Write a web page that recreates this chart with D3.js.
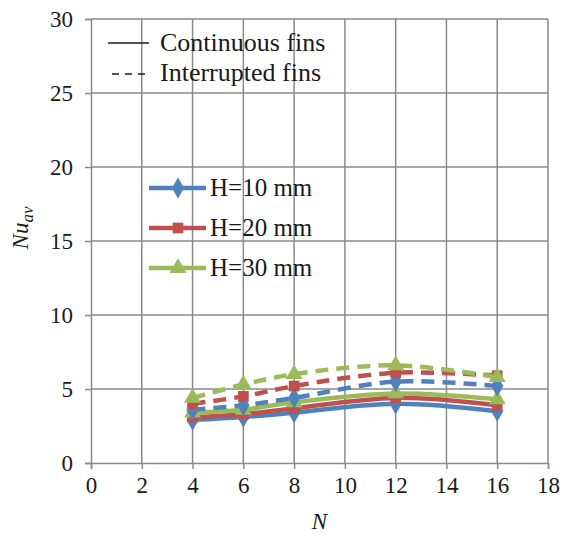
<!DOCTYPE html>
<html>
<head>
<meta charset="utf-8">
<script src="https://cdn.jsdelivr.net/npm/d3@7"></script>
<style>
  html, body { margin: 0; padding: 0; background: #fff; }
  svg { display: block; }
  text { font-family: "Liberation Serif", "Times New Roman", serif; fill: #1a1a1a; }
</style>
</head>
<body>
<svg id="chart" width="569" height="539"></svg>
<script>
// Number of fins on the x axis
const finCounts = [4, 6, 8, 12, 16];

// Average Nusselt number, continuous fins
const contH10 = [2.9, 3.1, 3.4, 4.0, 3.5];
const contH20 = [3.1, 3.3, 3.7, 4.4, 3.9];
const contH30 = [3.4, 3.6, 4.1, 4.7, 4.3];

// Average Nusselt number, interrupted fins
const intH10 = [3.6, 3.9, 4.4, 5.5, 5.2];
const intH20 = [4.0, 4.5, 5.2, 6.1, 5.9];
const intH30 = [4.4, 5.3, 6.0, 6.6, 5.8];

const heightLabels = ["H=10 mm", "H=20 mm", "H=30 mm"];
const seriesColors = ["#4F81BD", "#C0504D", "#9BBB59"];
const markerShapes = [d3.symbolDiamond, d3.symbolSquare, d3.symbolTriangle];

const xTicks = [0, 2, 4, 6, 8, 10, 12, 14, 16, 18];
const yTicks = [0, 5, 10, 15, 20, 25, 30];

const svg = d3.select("#chart");
const plot = { left: 91, right: 548, top: 19, bottom: 463 };

const x = d3.scaleLinear().domain([0, 18]).range([plot.left, plot.right]);
const y = d3.scaleLinear().domain([0, 30]).range([plot.bottom, plot.top]);

const gridColor = "#8a8a8a";
const serif = "'Liberation Serif', 'Times New Roman', serif";

// Grid lines
const grid = svg.append("g");
grid.selectAll("line.v").data(xTicks.slice(1)).join("line")
  .attr("x1", d => x(d)).attr("x2", d => x(d))
  .attr("y1", plot.top).attr("y2", plot.bottom)
  .attr("stroke", gridColor).attr("stroke-width", 1.5);
grid.selectAll("line.h").data(yTicks.slice(1)).join("line")
  .attr("x1", plot.left).attr("x2", plot.right)
  .attr("y1", d => y(d)).attr("y2", d => y(d))
  .attr("stroke", gridColor).attr("stroke-width", 1.5);

// Axes
const xAxis = d3.axisBottom(x).tickValues(xTicks).tickSize(6).tickPadding(8);
const yAxis = d3.axisLeft(y).tickValues(yTicks).tickSize(6).tickPadding(12);

const gx = svg.append("g").attr("transform", `translate(0,${plot.bottom})`).call(xAxis);
const gy = svg.append("g").attr("transform", `translate(${plot.left},0)`).call(yAxis);
[gx, gy].forEach(g => {
  g.attr("font-family", serif);
  g.select(".domain").attr("stroke", gridColor).attr("stroke-width", 1.5);
  g.selectAll(".tick line").attr("stroke", gridColor).attr("stroke-width", 1.5);
  g.selectAll(".tick text")
    .style("font-family", serif)
    .style("font-size", "23px").attr("fill", "#1a1a1a");
});

// Axis titles
svg.append("text")
  .attr("x", x(9)).attr("y", 529)
  .attr("text-anchor", "middle")
  .style("font-size", "23px").style("font-style", "italic")
  .text("N");

const yTitle = svg.append("text")
  .attr("transform", "translate(28,228) rotate(-90)")
  .attr("text-anchor", "middle")
  .style("font-size", "23px").style("font-style", "italic");
yTitle.append("tspan").text("Nu");
yTitle.append("tspan").attr("dy", 5).style("font-size", "17px").text("av");

// Data series
const points = arr => finCounts.map((n, i) => ({ n, v: arr[i] }));
const contSeries = [contH10, contH20, contH30];
const intSeries = [intH10, intH20, intH30];

const line = d3.line()
  .x(d => x(d.n)).y(d => y(d.v))
  .curve(d3.curveCatmullRom.alpha(0.5));

const series = [];
contSeries.forEach((s, i) => series.push({ data: points(s), i, dashed: false }));
intSeries.forEach((s, i) => series.push({ data: points(s), i, dashed: true }));

const symbolSize = [130, 115, 125];

series.forEach(s => {
  const g = svg.append("g");
  g.append("path")
    .attr("d", line(s.data))
    .attr("fill", "none")
    .attr("stroke", seriesColors[s.i])
    .attr("stroke-width", 4.5)
    .attr("stroke-dasharray", s.dashed ? "13,8" : null);
  g.selectAll("path.m").data(s.data).join("path")
    .attr("transform", d => `translate(${x(d.n)},${y(d.v)})`)
    .attr("d", d3.symbol().type(markerShapes[s.i]).size(symbolSize[s.i]))
    .attr("fill", seriesColors[s.i]);
});

// Legend: line styles
const styleLegend = svg.append("g");
styleLegend.append("line")
  .attr("x1", 108).attr("x2", 149).attr("y1", 43).attr("y2", 43)
  .attr("stroke", "#1a1a1a").attr("stroke-width", 1.5);
styleLegend.append("text").attr("x", 160).attr("y", 51)
  .style("font-size", "26px").text("Continuous fins");
styleLegend.append("line")
  .attr("x1", 112).attr("x2", 148).attr("y1", 74).attr("y2", 74)
  .attr("stroke", "#1a1a1a").attr("stroke-width", 1.5)
  .attr("stroke-dasharray", "7,6");
styleLegend.append("text").attr("x", 160).attr("y", 81)
  .style("font-size", "26px").text("Interrupted fins");

// Legend: fin heights
const hLegend = svg.append("g");
heightLabels.forEach((label, i) => {
  const yy = 188 + i * 40;
  hLegend.append("line")
    .attr("x1", 149).attr("x2", 206).attr("y1", yy).attr("y2", yy)
    .attr("stroke", seriesColors[i]).attr("stroke-width", 4.5);
  hLegend.append("path")
    .attr("transform", `translate(178,${yy})`)
    .attr("d", d3.symbol().type(markerShapes[i]).size(symbolSize[i]))
    .attr("fill", seriesColors[i]);
  hLegend.append("text").attr("x", 210).attr("y", yy + 8)
    .style("font-size", "25px").text(label);
});
</script>
</body>
</html>
